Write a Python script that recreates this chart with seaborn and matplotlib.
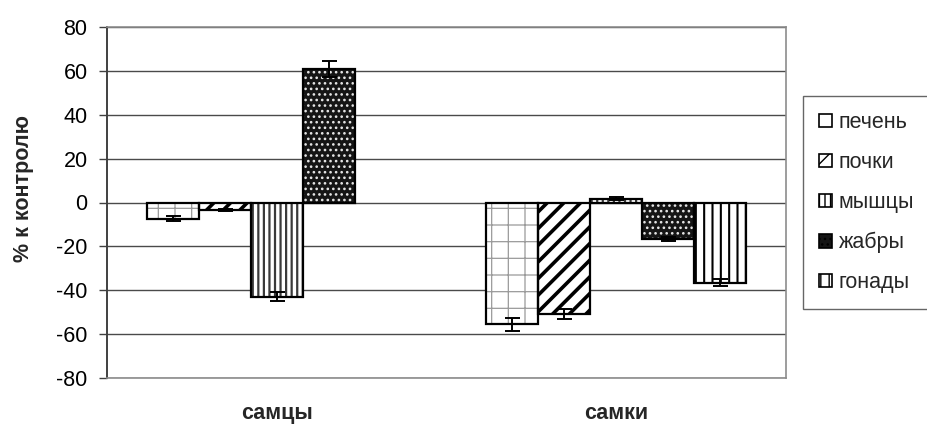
import numpy as np
import pandas as pd
import matplotlib
matplotlib.use("Agg")
import matplotlib.pyplot as plt
from matplotlib.patches import Patch, Rectangle
import seaborn as sns

categories = ["самцы", "самки"]
series = ["печень", "почки", "мышцы", "жабры", "гонады"]
males = [-7.3, -3.6, -42.9, 61.0, np.nan]
females = [-55.6, -51.0, 1.8, -16.7, -36.5]
males_err = [1.0, 0.5, 2.2, 3.6, np.nan]
females_err = [2.9, 2.3, 0.5, 1.0, 1.7]
y_ticks = [-80, -60, -40, -20, 0, 20, 40, 60, 80]
y_label = "% к контролю"

rows = []
for cat, vals, errs in [(categories[0], males, males_err), (categories[1], females, females_err)]:
    for s, v, e in zip(series, vals, errs):
        rows.append({"group": cat, "organ": s, "value": v, "err": e})
df = pd.DataFrame(rows)

sns.set_theme(style="white")
plt.rcParams["font.family"] = ["Liberation Sans", "DejaVu Sans"]

styles = {
    "печень": dict(face="white", hatch="+", hcol="#9a9a9a", hlw=0.9, leg_hatch=None),
    "почки": dict(face="white", hatch="//", hcol="black", hlw=2.6, leg_hatch="//"),
    "мышцы": dict(face="white", hatch="|||", hcol="#3a3a3a", hlw=1.6, leg_hatch="|||"),
    "жабры": dict(face="#151515", hatch="...", hcol="#e6e6e6", hlw=1.1, leg_hatch="..."),
    "гонады": dict(face="white", hatch="||", hcol="black", hlw=1.5, leg_hatch="||"),
}

fig = plt.figure(figsize=(9.28, 4.32), dpi=100)
ax = fig.add_axes([107 / 928, 1 - 378 / 432, (786 - 107) / 928, (378 - 27) / 432])

sns.barplot(data=df.dropna(subset=["value"]), x="group", y="value", hue="organ",
            order=categories, hue_order=series, width=0.766, errorbar=None,
            ax=ax, legend=False, saturation=1)
ax.set_xlim(-0.5, 1.5)

for lvl, cont in zip(series, ax.containers):
    st = styles[lvl]
    sub = df[(df["organ"] == lvl)].dropna(subset=["value"])
    for bar in cont:
        xc = bar.get_x() + bar.get_width() / 2
        cat = categories[int(round(xc))]
        bar.set_facecolor(st["face"])
        bar.set_edgecolor(st["hcol"])
        bar.set_hatch(st["hatch"])
        bar.set_linewidth(0)
        try:
            bar.set_hatch_linewidth(st["hlw"])
        except Exception:
            pass
        outline = Rectangle((bar.get_x(), bar.get_y()), bar.get_width(), bar.get_height(),
                            fill=False, edgecolor="black", linewidth=1.6, zorder=bar.get_zorder() + 0.1)
        ax.add_patch(outline)
        r = sub[sub["group"] == cat].iloc[0]
        ax.errorbar(xc, r["value"], yerr=r["err"], fmt="none", ecolor="black",
                    elinewidth=1.4, capsize=5.4, capthick=1.4, zorder=5)

ax.set_ylim(-80, 80)
ax.set_yticks(y_ticks)
ax.set_yticklabels([str(t) for t in y_ticks], fontsize=15.5, color="black")
ax.yaxis.grid(True, color="#4a4a4a", linewidth=1.0)
ax.set_axisbelow(True)
ax.tick_params(axis="y", which="major", left=True, length=6, width=1, color="#404040", pad=8, direction="out")
ax.tick_params(axis="x", bottom=False, pad=12, labelsize=15.5)
for lab in ax.get_xticklabels():
    lab.set_fontweight("bold")
ax.set_xlabel("")
ax.set_ylabel(y_label, fontsize=15.5, fontweight="bold")
ax.yaxis.set_label_coords(-0.108, 0.54)
for side in ["top", "right", "bottom"]:
    ax.spines[side].set_visible(True)
    ax.spines[side].set_color("#8c8c8c")
    ax.spines[side].set_linewidth(1.2)
ax.spines["left"].set_color("#404040")
ax.spines["left"].set_linewidth(1.4)

handles = []
for lvl in series:
    st = styles[lvl]
    handles.append(Patch(facecolor=st["face"], edgecolor="black", hatch=st["leg_hatch"],
                         linewidth=1.2, label=lvl))
leg = fig.legend(handles=handles, loc="upper left", bbox_to_anchor=(803 / 928, 1 - 96 / 432),
                 frameon=True, fancybox=False, shadow=False, fontsize=15.5,
                 handlelength=0.6, handleheight=0.6, handletextpad=0.3,
                 labelspacing=0.88, borderpad=0.75, borderaxespad=0)
leg.get_frame().set_edgecolor("#404040")
leg.get_frame().set_linewidth(1.0)

fig.savefig("out.png", dpi=100)
